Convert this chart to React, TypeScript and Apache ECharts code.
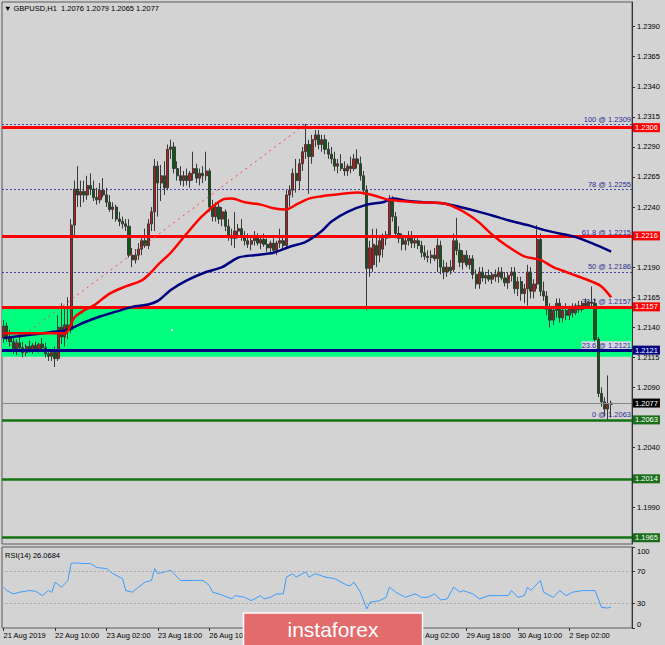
import React, { useEffect, useRef } from "react";
import * as echarts from "echarts";

const SYMBOL = "GBPUSD,H1";
const LAST_OHLC = [1.2076, 1.2079, 1.2065, 1.2077];
const RSI_LAST = 26.0684;

// H1 bars: [open, high, low, close]
const BARS_21AUG = [
  [1.2131, 1.2146, 1.2127, 1.2141], [1.2141, 1.2144, 1.2128, 1.2132], [1.2132, 1.2138, 1.2124, 1.2128],
  [1.2128, 1.2133, 1.2118, 1.2122], [1.2122, 1.213, 1.2117, 1.2127], [1.2127, 1.2134, 1.212, 1.2123],
];
const BARS_22AUG = [
  [1.2123, 1.2128, 1.2115, 1.2119], [1.2119, 1.2126, 1.2116, 1.2124], [1.2124, 1.2129, 1.2119, 1.2121],
  [1.2121, 1.2127, 1.2118, 1.2125], [1.2125, 1.2128, 1.212, 1.2122], [1.2122, 1.2127, 1.2119, 1.2126],
  [1.2126, 1.2131, 1.2121, 1.2123], [1.2123, 1.2127, 1.2115, 1.2118], [1.2118, 1.2122, 1.2112, 1.2116],
  [1.2116, 1.2121, 1.2112, 1.2119], [1.2119, 1.2124, 1.2107, 1.2114], [1.2114, 1.215, 1.2112, 1.214],
  [1.214, 1.216, 1.2126, 1.2132], [1.2132, 1.2156, 1.2124, 1.2142], [1.2142, 1.2165, 1.213, 1.2138],
  [1.2138, 1.223, 1.2135, 1.2225], [1.2225, 1.2262, 1.2215, 1.2255], [1.2255, 1.2274, 1.224, 1.225],
  [1.225, 1.2262, 1.224, 1.2253], [1.2253, 1.2262, 1.2244, 1.225], [1.225, 1.2266, 1.2246, 1.2258],
  [1.2258, 1.2268, 1.225, 1.2255], [1.2255, 1.2262, 1.2245, 1.2248], [1.2248, 1.2256, 1.2242, 1.2246],
];
const BARS_23AUG = [
  [1.2246, 1.226, 1.2243, 1.2254], [1.2254, 1.2264, 1.2248, 1.225], [1.225, 1.2256, 1.224, 1.2244],
  [1.2244, 1.225, 1.2236, 1.2238], [1.2238, 1.2244, 1.223, 1.224], [1.224, 1.2242, 1.2228, 1.223],
  [1.223, 1.2236, 1.2224, 1.2228], [1.2228, 1.2232, 1.2222, 1.2226], [1.2226, 1.223, 1.222, 1.2224],
  [1.2224, 1.223, 1.2198, 1.22], [1.22, 1.2206, 1.219, 1.2196], [1.2196, 1.2205, 1.2193, 1.22],
  [1.22, 1.221, 1.2196, 1.2205], [1.2205, 1.2216, 1.22, 1.2212], [1.2212, 1.2222, 1.2206, 1.2208],
  [1.2208, 1.223, 1.2205, 1.2226], [1.2226, 1.224, 1.222, 1.2236], [1.2236, 1.228, 1.222, 1.2274],
  [1.2274, 1.2278, 1.2232, 1.226], [1.226, 1.2275, 1.2245, 1.2266], [1.2266, 1.2278, 1.225, 1.2256],
  [1.2256, 1.2292, 1.2254, 1.2288], [1.2288, 1.2296, 1.228, 1.229], [1.229, 1.2294, 1.2268, 1.2272],
];
const BARS_26AUG = [
  [1.2272, 1.2278, 1.2262, 1.2266], [1.2266, 1.2274, 1.2258, 1.2262], [1.2262, 1.227, 1.2257, 1.2266],
  [1.2266, 1.2272, 1.2258, 1.2262], [1.2262, 1.227, 1.2256, 1.2268], [1.2268, 1.2286, 1.2262, 1.2272],
  [1.2272, 1.2276, 1.226, 1.2264], [1.2264, 1.2272, 1.2258, 1.2268], [1.2268, 1.2274, 1.226, 1.2266],
  [1.2266, 1.2286, 1.2262, 1.227], [1.227, 1.2272, 1.2236, 1.224], [1.224, 1.2246, 1.2228, 1.2232],
  [1.2232, 1.2244, 1.2228, 1.224], [1.224, 1.2244, 1.2226, 1.223], [1.223, 1.224, 1.2224, 1.2236],
  [1.2236, 1.2238, 1.222, 1.2224], [1.2224, 1.223, 1.2212, 1.2216], [1.2216, 1.2222, 1.2208, 1.2214],
  [1.2214, 1.2236, 1.2206, 1.222], [1.222, 1.2226, 1.2214, 1.2222], [1.2222, 1.223, 1.2212, 1.2216],
  [1.2216, 1.222, 1.2208, 1.2212], [1.2212, 1.2218, 1.2206, 1.2209], [1.2209, 1.2216, 1.2204, 1.2212],
];
const BARS_27AUG = [
  [1.2212, 1.222, 1.2208, 1.2215], [1.2215, 1.2218, 1.2208, 1.221], [1.221, 1.2216, 1.2205, 1.2213],
  [1.2213, 1.2218, 1.2207, 1.2209], [1.2209, 1.2214, 1.2203, 1.2206], [1.2206, 1.2212, 1.2201, 1.221],
  [1.221, 1.2214, 1.2202, 1.2204], [1.2204, 1.2212, 1.22, 1.221], [1.221, 1.2222, 1.2206, 1.2212],
  [1.2212, 1.2216, 1.2205, 1.2208], [1.2208, 1.2254, 1.2205, 1.225], [1.225, 1.2258, 1.224, 1.2254],
  [1.2254, 1.2272, 1.2248, 1.2268], [1.2268, 1.228, 1.2252, 1.2262], [1.2262, 1.228, 1.2254, 1.2276],
  [1.2276, 1.229, 1.227, 1.2286], [1.2286, 1.2309, 1.228, 1.2292], [1.2292, 1.2296, 1.2251, 1.2282],
  [1.2282, 1.23, 1.2276, 1.2296], [1.2296, 1.2304, 1.229, 1.23], [1.23, 1.2304, 1.2288, 1.2292],
  [1.2292, 1.23, 1.2286, 1.2296], [1.2296, 1.23, 1.2284, 1.2288], [1.2288, 1.2294, 1.228, 1.2284],
];
const BARS_28AUG = [
  [1.2284, 1.229, 1.2276, 1.228], [1.228, 1.2286, 1.227, 1.2274], [1.2274, 1.228, 1.2268, 1.2276],
  [1.2276, 1.2284, 1.227, 1.2272], [1.2272, 1.2278, 1.2266, 1.227], [1.227, 1.2276, 1.2266, 1.2274],
  [1.2274, 1.2282, 1.2268, 1.2272], [1.2272, 1.2284, 1.227, 1.228], [1.228, 1.2288, 1.2272, 1.2276],
  [1.2276, 1.2282, 1.2262, 1.2266], [1.2266, 1.227, 1.225, 1.2254], [1.2254, 1.2258, 1.2154, 1.2189],
  [1.2189, 1.2212, 1.2182, 1.2206], [1.2192, 1.2222, 1.2186, 1.2209], [1.2208, 1.2222, 1.219, 1.22],
  [1.22, 1.2215, 1.2194, 1.2212], [1.2205, 1.2218, 1.2198, 1.2214], [1.2214, 1.222, 1.2208, 1.2217],
  [1.2217, 1.225, 1.2214, 1.2246], [1.2246, 1.2249, 1.2228, 1.2232], [1.2232, 1.2236, 1.2214, 1.2218],
  [1.2218, 1.2224, 1.221, 1.2214], [1.2214, 1.2218, 1.2204, 1.2209], [1.2209, 1.2216, 1.2204, 1.2212],
];
const BARS_29AUG = [
  [1.2212, 1.222, 1.2208, 1.2216], [1.2216, 1.222, 1.2206, 1.221], [1.221, 1.2216, 1.2206, 1.2212],
  [1.2212, 1.2215, 1.2205, 1.2208], [1.2208, 1.2212, 1.2198, 1.2202], [1.2202, 1.2208, 1.2196, 1.2199],
  [1.2199, 1.2204, 1.2194, 1.2198], [1.2198, 1.2204, 1.2193, 1.22], [1.22, 1.2206, 1.2195, 1.2197],
  [1.2197, 1.2214, 1.2186, 1.2208], [1.2208, 1.2212, 1.2184, 1.219], [1.219, 1.2196, 1.218, 1.2186],
  [1.2186, 1.2194, 1.2182, 1.219], [1.219, 1.2196, 1.2184, 1.2187], [1.2188, 1.2218, 1.2186, 1.2212],
  [1.2212, 1.2231, 1.22, 1.2204], [1.2204, 1.221, 1.219, 1.2194], [1.2194, 1.2204, 1.2188, 1.22],
  [1.22, 1.2204, 1.219, 1.2192], [1.2192, 1.22, 1.2188, 1.2197], [1.2197, 1.22, 1.218, 1.2184],
  [1.2184, 1.2188, 1.2172, 1.2176], [1.2176, 1.219, 1.2172, 1.2186], [1.2186, 1.219, 1.2178, 1.2181],
];
const BARS_30AUG = [
  [1.2181, 1.2186, 1.2176, 1.2183], [1.2183, 1.2188, 1.2178, 1.218], [1.218, 1.2186, 1.2176, 1.2184],
  [1.2184, 1.2188, 1.2178, 1.2182], [1.2182, 1.219, 1.2177, 1.2186], [1.2186, 1.219, 1.2179, 1.2181],
  [1.2181, 1.2186, 1.2174, 1.2177], [1.2177, 1.2186, 1.2172, 1.2183], [1.2183, 1.219, 1.2178, 1.2186],
  [1.2186, 1.219, 1.2168, 1.2172], [1.2172, 1.2182, 1.2166, 1.2178], [1.2178, 1.2182, 1.2162, 1.2168],
  [1.2168, 1.2176, 1.216, 1.2172], [1.2172, 1.2192, 1.2158, 1.2186], [1.2186, 1.219, 1.2164, 1.217],
  [1.217, 1.218, 1.2164, 1.2176], [1.2176, 1.2225, 1.2172, 1.2213], [1.2213, 1.2218, 1.2166, 1.217],
  [1.217, 1.2178, 1.2162, 1.2166], [1.2166, 1.217, 1.215, 1.2155], [1.2155, 1.216, 1.214, 1.2146],
  [1.2146, 1.2158, 1.2142, 1.2154], [1.2154, 1.2164, 1.2148, 1.216], [1.216, 1.2164, 1.2144, 1.2148],
];
const BARS_2SEP = [
  [1.2148, 1.2158, 1.2144, 1.2154], [1.2154, 1.216, 1.2146, 1.215], [1.215, 1.2158, 1.2146, 1.2156],
  [1.2156, 1.216, 1.2148, 1.2152], [1.2152, 1.216, 1.215, 1.2158], [1.2158, 1.2162, 1.2152, 1.2155],
  [1.2155, 1.2162, 1.2153, 1.216], [1.216, 1.2164, 1.2156, 1.2158], [1.2158, 1.2162, 1.2156, 1.2161],
  [1.2161, 1.2174, 1.2157, 1.216], [1.216, 1.2164, 1.2128, 1.213], [1.213, 1.2132, 1.2082, 1.2085],
  [1.2085, 1.209, 1.2074, 1.2078], [1.2078, 1.2082, 1.2066, 1.2072], [1.2072, 1.21, 1.2063, 1.2076],
  [1.2076, 1.2079, 1.2065, 1.2077],
];

// Moving averages read at sampled bars: [barIndex, price]
const MA_RED = [
  [0, 1.2135], [19, 1.2135], [20, 1.2137], [22, 1.2148], [25, 1.2154], [28, 1.2158], [33, 1.2168],
  [38, 1.2174], [43, 1.2179], [46, 1.2186], [48, 1.2192], [52, 1.2202], [57, 1.2218], [62, 1.2233],
  [68, 1.2246], [71, 1.2247], [75, 1.2244], [80, 1.2242], [84, 1.2239], [88, 1.2238], [91, 1.2242],
  [95, 1.2247], [99, 1.2249], [102, 1.225], [110, 1.2252], [113, 1.2251], [116, 1.2249], [120, 1.2246],
  [128, 1.2244], [137, 1.2243], [141, 1.2239], [145, 1.2233], [148, 1.2227], [152, 1.2217], [157, 1.2207],
  [162, 1.2199], [167, 1.2196], [171, 1.219], [175, 1.2186], [179, 1.2182], [183, 1.2178], [186, 1.2174],
  [189, 1.2165],
];
const MA_NAVY = [
  [0, 1.2131], [9, 1.2134], [15, 1.2136], [20, 1.2138], [25, 1.2144], [30, 1.2149], [35, 1.2153],
  [40, 1.2157], [45, 1.2159], [48, 1.2162], [52, 1.2171], [57, 1.2179], [63, 1.2186], [68, 1.219],
  [73, 1.2198], [78, 1.22], [84, 1.2202], [89, 1.2207], [94, 1.2211], [99, 1.222], [102, 1.2228],
  [107, 1.2236], [113, 1.2242], [118, 1.2244], [121, 1.2247], [126, 1.2245], [131, 1.2244], [137, 1.2243],
  [142, 1.224], [148, 1.2236], [152, 1.2233], [157, 1.2229], [163, 1.2225], [168, 1.2221], [173, 1.2218],
  [178, 1.2215], [183, 1.221], [189, 1.2203],
];
// RSI(14) read at sampled bars: [barIndex, value]
const RSI = [
  [0, 50.4], [1, 46.2], [3, 42.1], [5, 44.2], [8, 46.2], [10, 45.4], [12, 40], [14, 46.2], [15, 44],
  [16, 56.6], [18, 50.4], [20, 58.7], [21, 79.6], [22, 80.4], [25, 79.6], [27, 79.6], [29, 74.6],
  [32, 73.4], [34, 67.1], [37, 60.9], [38, 46.2], [40, 44.2], [42, 50.4], [44, 56.6], [46, 58.7],
  [47, 73.4], [48, 67.1], [50, 69.2], [52, 71.2], [53, 67.1], [55, 58.7], [60, 58.7], [62, 58.7],
  [64, 52.5], [65, 44.2], [67, 42.1], [71, 35.9], [72, 40], [75, 37.9], [77, 33.8], [80, 40], [81, 35.9],
  [83, 37.9], [85, 42.1], [87, 42.1], [88, 62.9], [90, 67.1], [91, 62.9], [94, 69.2], [95, 62.9],
  [97, 67.1], [100, 62.9], [103, 60.9], [107, 52.5], [108, 52.5], [109, 56.6], [111, 44.2], [113, 23.5],
  [114, 31.8], [117, 33.8], [119, 37.9], [120, 50.4], [122, 44.2], [125, 37.9], [128, 42.1], [130, 37.9],
  [132, 37.9], [134, 42.1], [136, 34.6], [138, 35.9], [140, 50.4], [142, 44.2], [143, 46.2], [146, 42.1],
  [148, 35.9], [151, 40], [154, 40], [157, 40], [158, 46.2], [160, 37.9], [162, 40], [163, 50.4],
  [164, 46.2], [167, 58.7], [168, 44.2], [171, 37.9], [173, 46.2], [175, 40], [177, 44.2], [180, 46.2],
  [182, 46.2], [184, 46.2], [185, 35.9], [186, 25.5], [188, 24.6], [189, 26.1],
];

const RED_LEVELS = [1.2306, 1.2216, 1.2157];
const NAVY_LEVELS = [1.2121];
const GREEN_LEVELS = [1.2063, 1.2014, 1.1965];
const BID = 1.2077;
const ZONE = [1.21155, 1.2157];
const FIB_RATIOS = ["100", "78", "61.8", "50", "38.2", "23.6", "0"];
const FIB_PRICES = [1.2309, 1.2255, 1.2215, 1.2186, 1.2157, 1.2121, 1.2063];
const TREND_BARS = [2, 94];
const TREND_PRICES = [1.2125, 1.2309];
const RSI_LEVELS = [70, 30];

const PRICE_TICKS = [1.1965, 1.199, 1.2015, 1.204, 1.2065, 1.209, 1.2115, 1.214, 1.2165, 1.219, 1.2215,
  1.224, 1.2265, 1.229, 1.2315, 1.234, 1.2365, 1.239];
const PRICE_LABELS = [1.199, 1.204, 1.209, 1.2115, 1.214, 1.2165, 1.219, 1.224, 1.2265, 1.229, 1.2315,
  1.234, 1.2365, 1.239];
const RSI_TICKS = [0, 30, 70, 100];
const TIME_LABELS = ["21 Aug 2019", "22 Aug 10:00", "23 Aug 02:00", "23 Aug 18:00", "26 Aug 10:00",
  "27 Aug 02:00", "27 Aug 18:00", "28 Aug 10:00", "29 Aug 02:00", "29 Aug 18:00", "30 Aug 10:00", "2 Sep 02:00"];
const TIME_LABELS_UNDER_LOGO = ["27 Aug 02:00", "27 Aug 18:00", "28 Aug 10:00"];
const TIME_LABEL_STEP = 16;
const SLOTS = 196;
const Y_MIN = 1.19598;
const Y_MAX = 1.24105;

const BG = "#d3d3d3";
const FONT = "Liberation Sans";
const FS = 7.5;

export default function App() {
  const ref = useRef<HTMLDivElement>(null);
  useEffect(() => {
    if (!ref.current) return;
    const chart = echarts.init(ref.current, undefined, { renderer: "svg" });
    const bars = [...BARS_21AUG, ...BARS_22AUG, ...BARS_23AUG, ...BARS_26AUG, ...BARS_27AUG,
      ...BARS_28AUG, ...BARS_29AUG, ...BARS_30AUG, ...BARS_2SEP];
    const cats = Array.from({ length: SLOTS }, (_, i) => String(i));
    const candleData = bars.map((b) => [b[0], b[3], b[2], b[1]]);
    const timeLabel = (i: number) => {
      if (i % TIME_LABEL_STEP !== 0) return "";
      const t = TIME_LABELS[i / TIME_LABEL_STEP];
      if (!t || TIME_LABELS_UNDER_LOGO.includes(t)) return "";
      return t;
    };
    const showTime = (i: number) => i % TIME_LABEL_STEP === 0 && i / TIME_LABEL_STEP < TIME_LABELS.length;

    const levelLine = (p: number, color: string, width: number, bg: string) => ({
      yAxis: p,
      lineStyle: { color, width, type: "solid" },
      label: {
        show: true, position: "end", distance: 1, formatter: p.toFixed(4), color: "#fff",
        backgroundColor: bg, padding: [0, 2, 0, 2], lineHeight: 9, fontSize: FS, fontFamily: FONT,
      },
    });

    const option: any = {
      animation: false,
      backgroundColor: BG,
      textStyle: { fontFamily: FONT },
      title: [
        {
          text: "▼ " + SYMBOL + "  " + LAST_OHLC.map((v) => v.toFixed(4)).join(" "),
          left: 4, top: 4, padding: 0,
          textStyle: { fontSize: FS, fontWeight: "normal", color: "#000", fontFamily: FONT },
        },
        {
          text: "RSI(14) " + RSI_LAST.toFixed(4),
          left: 5, top: 551, padding: 0,
          textStyle: { fontSize: FS, fontWeight: "normal", color: "#000", fontFamily: FONT },
        },
      ],
      grid: [
        { left: 2, right: 33, top: 2, height: 542, show: true, borderColor: "#5a5a5a", borderWidth: 1 },
        { left: 2, right: 33, top: 547, height: 81, show: true, borderColor: "#5a5a5a", borderWidth: 1 },
      ],
      xAxis: [
        { type: "category", gridIndex: 0, data: cats, boundaryGap: true, show: false },
        {
          type: "category", gridIndex: 1, data: cats, boundaryGap: true,
          axisLine: { show: false },
          axisTick: { show: true, interval: (i: number) => showTime(i), alignWithLabel: true, length: 3, lineStyle: { color: "#333" } },
          axisLabel: {
            interval: (i: number) => showTime(i),
            formatter: (_v: string, i: number) => timeLabel(i),
            align: "left", fontSize: FS, color: "#000", margin: 3, fontFamily: FONT,
          },
          splitLine: { show: false },
        },
      ],
      yAxis: [
        {
          type: "value", gridIndex: 0, position: "right", min: Y_MIN, max: Y_MAX,
          axisLine: { show: true, lineStyle: { color: "#333" } },
          axisTick: { show: true, length: 3, customValues: PRICE_TICKS, lineStyle: { color: "#333" } },
          axisLabel: {
            customValues: PRICE_LABELS, formatter: (v: number) => v.toFixed(4),
            fontSize: FS, color: "#000", margin: 5, fontFamily: FONT,
          },
          splitLine: { show: false },
        },
        {
          type: "value", gridIndex: 1, position: "right", min: 0, max: 100,
          axisLine: { show: true, lineStyle: { color: "#333" } },
          axisTick: { show: true, length: 3, customValues: RSI_TICKS, lineStyle: { color: "#333" } },
          axisLabel: {
            customValues: RSI_TICKS, fontSize: FS, color: "#000", margin: 5, fontFamily: FONT,
            verticalAlignMaxLabel: "top", verticalAlignMinLabel: "bottom",
          },
          splitLine: { show: false },
        },
      ],
      series: [
        {
          name: "zone", type: "line", data: [], z: 0, silent: true, clip: false,
          markArea: {
            silent: true, z: 0, itemStyle: { color: "#00ff7f" },
            data: [[{ yAxis: ZONE[1] }, { yAxis: ZONE[0] }]],
          },
        },
        {
          name: "GBPUSD", type: "candlestick", data: candleData, z: 2, barWidth: 2.6,
          itemStyle: { color: "#c01818", color0: "#0b5d0b", borderColor: "#3a3a3a", borderColor0: "#3a3a3a", borderWidth: 1 },
          markLine: {
            silent: true, z: 1, symbol: ["none", "none"], precision: 5,
            data: FIB_PRICES.map((p, i) => ({
              yAxis: p,
              lineStyle: { color: "#4848a8", width: 1, type: [2, 2] },
              label: {
                show: true, position: "insideEndTop", distance: 1,
                formatter: FIB_RATIOS[i] + " @ " + p.toFixed(4),
                color: "#2e2e96", fontSize: FS, fontFamily: FONT,
                backgroundColor: FIB_RATIOS[i] === "23.6" ? "#d6d6e2" : "transparent",
              },
            })),
          },
        },
        {
          name: "trend", type: "line", z: 3, silent: true, symbol: "none", clip: false,
          data: TREND_BARS.map((b, i) => [b, TREND_PRICES[i]]),
          lineStyle: { color: "#ff4040", width: 1, type: [2, 4] },
          markLine: {
            silent: true, z: 3, symbol: ["none", "none"], precision: 5,
            data: [
              {
                yAxis: BID, lineStyle: { color: "#8a8a8a", width: 1, type: "solid" },
                label: {
                  show: true, position: "end", distance: 1, formatter: BID.toFixed(4), color: "#fff",
                  backgroundColor: "#000", padding: [0, 2, 0, 2], lineHeight: 9, fontSize: FS, fontFamily: FONT,
                },
              },
              ...GREEN_LEVELS.map((p) => levelLine(p, "#137313", 2.5, "#1a6e1a")),
              ...NAVY_LEVELS.map((p) => levelLine(p, "#000080", 3, "#000080")),
              ...RED_LEVELS.map((p) => levelLine(p, "#ff0000", 3, "#ff0000")),
            ],
          },
        },
        {
          name: "MA slow", type: "line", z: 4, silent: true, symbol: "none", smooth: 0.3,
          data: MA_NAVY, lineStyle: { color: "#000080", width: 2.5 },
        },
        {
          name: "MA fast", type: "line", z: 4, silent: true, symbol: "none", smooth: 0.3,
          data: MA_RED, lineStyle: { color: "#ff0000", width: 2.5 },
        },
        {
          name: "RSI", type: "line", xAxisIndex: 1, yAxisIndex: 1, z: 3, silent: true, symbol: "none",
          data: RSI, lineStyle: { color: "#3d9bff", width: 1 },
          markLine: {
            silent: true, symbol: ["none", "none"], label: { show: false },
            lineStyle: { color: "#a9a9a9", width: 1, type: [2, 2] },
            data: RSI_LEVELS.map((v) => ({ yAxis: v })),
          },
        },
      ],
      graphic: [
        { type: "rect", shape: { x: 171, y: 329, width: 2, height: 2 }, style: { fill: "#ffffff" }, z: 50, silent: true },
        {
          type: "rect", shape: { x: 243.5, y: 613, width: 179, height: 36 },
          style: { fill: "#e26b6b", stroke: "#ffffff", lineWidth: 1.5 }, z: 100, silent: true,
        },
        {
          type: "text", x: 333, y: 629.5, z: 101, silent: true,
          style: {
            text: "instaforex", fill: "#ffffff", fontSize: 21, fontFamily: FONT,
            align: "center", verticalAlign: "middle",
          },
        },
      ],
    };
    chart.setOption(option);
    return () => chart.dispose();
  }, []);
  return (
    <div
      ref={ref}
      style={{ position: "fixed", left: 0, top: 0, width: 665, height: 645, background: BG }}
    />
  );
}
